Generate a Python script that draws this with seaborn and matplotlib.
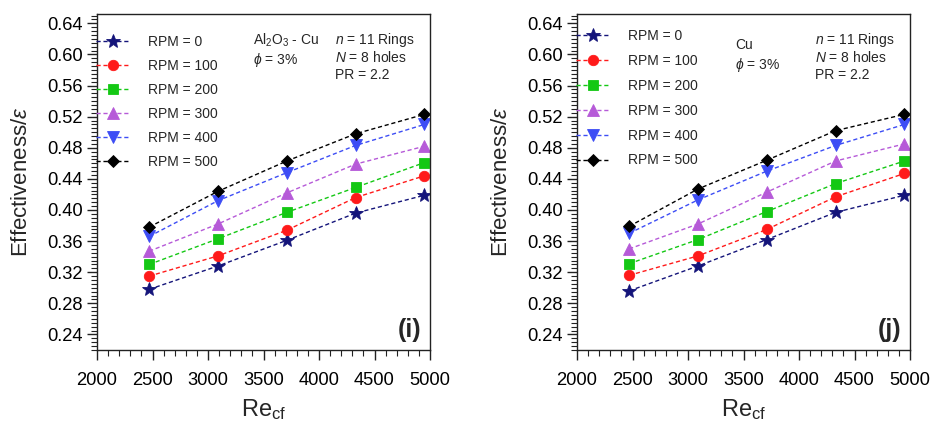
import numpy as np
import pandas as pd
import matplotlib
matplotlib.use("Agg")
import matplotlib.pyplot as plt
import seaborn as sns
from matplotlib.ticker import MultipleLocator, FormatStrFormatter

# ---------------- data ----------------
re_cf = [2470, 3090, 3710, 4330, 4950]
rpm_labels = ["RPM = 0", "RPM = 100", "RPM = 200", "RPM = 300", "RPM = 400", "RPM = 500"]

# panel (i): Al2O3 - Cu
eff_i_rpm0 = [0.298, 0.328, 0.361, 0.396, 0.419]
eff_i_rpm100 = [0.315, 0.341, 0.374, 0.416, 0.444]
eff_i_rpm200 = [0.330, 0.363, 0.397, 0.429, 0.461]
eff_i_rpm300 = [0.347, 0.382, 0.422, 0.459, 0.482]
eff_i_rpm400 = [0.366, 0.412, 0.448, 0.483, 0.510]
eff_i_rpm500 = [0.378, 0.424, 0.463, 0.498, 0.523]

# panel (j): Cu
eff_j_rpm0 = [0.296, 0.328, 0.362, 0.397, 0.419]
eff_j_rpm100 = [0.316, 0.341, 0.375, 0.417, 0.447]
eff_j_rpm200 = [0.331, 0.362, 0.398, 0.434, 0.463]
eff_j_rpm300 = [0.350, 0.382, 0.423, 0.463, 0.485]
eff_j_rpm400 = [0.370, 0.413, 0.450, 0.483, 0.510]
eff_j_rpm500 = [0.379, 0.427, 0.464, 0.502, 0.523]

y_ticks = [0.24, 0.28, 0.32, 0.36, 0.40, 0.44, 0.48, 0.52, 0.56, 0.60, 0.64]
x_ticks = [2000, 2500, 3000, 3500, 4000, 4500, 5000]

colors = ["#14147a", "#ff1a1a", "#14c814", "#b65ad8", "#3d4df5", "#000000"]
markers = ["*", "o", "s", "^", "v", "D"]
msizes = [10, 7.5, 7, 8, 8, 6.5]


def long_df(series):
    rows = []
    for lab, vals in zip(rpm_labels, series):
        for x, v in zip(re_cf, vals):
            rows.append({"Re": x, "eff": v, "RPM": lab})
    return pd.DataFrame(rows)


df_i = long_df([eff_i_rpm0, eff_i_rpm100, eff_i_rpm200, eff_i_rpm300, eff_i_rpm400, eff_i_rpm500])
df_j = long_df([eff_j_rpm0, eff_j_rpm100, eff_j_rpm200, eff_j_rpm300, eff_j_rpm400, eff_j_rpm500])

# ---------------- style ----------------
sns.set_style("ticks")
plt.rcParams["font.family"] = ["Liberation Sans", "DejaVu Sans"]
plt.rcParams["mathtext.fontset"] = "custom"
plt.rcParams["mathtext.rm"] = "Liberation Sans"
plt.rcParams["mathtext.it"] = "Liberation Sans:italic"
plt.rcParams["mathtext.bf"] = "Liberation Sans:bold"
plt.rcParams["axes.edgecolor"] = "#222222"
plt.rcParams["axes.linewidth"] = 1.0

fig = plt.figure(figsize=(9.31, 4.30), dpi=100)
ax_i = fig.add_axes([97 / 931, 1 - 350 / 430, 333 / 931, 336 / 430])
ax_j = fig.add_axes([577 / 931, 1 - 350 / 430, 333 / 931, 336 / 430])


def draw(ax, df, material_lines, mat_xy, tag, leg_y, leg_sp):
    sns.lineplot(data=df, x="Re", y="eff", hue="RPM", style="RPM",
                 palette=colors, markers=markers, dashes=[(3, 2)] * 6,
                 linewidth=1.0, markeredgewidth=0.6, ax=ax, legend=False)
    for ln, ms, c in zip(ax.lines, msizes, colors):
        ln.set_markersize(ms)
        ln.set_markeredgecolor(c)
    ax.set_xlim(2000, 5000)
    ax.set_ylim(0.22, 0.652)
    ax.set_xticks(x_ticks)
    ax.set_yticks(y_ticks)
    ax.yaxis.set_major_formatter(FormatStrFormatter("%.2f"))
    ax.xaxis.set_minor_locator(MultipleLocator(100))
    ax.yaxis.set_minor_locator(MultipleLocator(0.005))
    ax.tick_params(axis="both", which="major", direction="out", length=7, width=1,
                   labelsize=13.2, colors="#222222", labelcolor="black")
    ax.tick_params(axis="both", which="minor", direction="out", length=4, width=0.8,
                   colors="#222222")
    ax.tick_params(axis="x", pad=9)
    for s in ax.spines.values():
        s.set_visible(True)
    ax.set_xlabel(r"Re$_\mathrm{cf}$", fontsize=17, labelpad=6)
    ax.set_ylabel(r"Effectiveness/$\varepsilon$", fontsize=16)
    ax.yaxis.set_label_coords(-0.195, 0.5)

    handles = ax.lines[:6]
    ax.legend(handles, rpm_labels, loc="upper left", bbox_to_anchor=(-0.01, leg_y),
              frameon=False, fontsize=10, handlelength=2.4, handletextpad=1.3,
              labelspacing=leg_sp, borderaxespad=0, borderpad=0.2)

    mx, my = mat_xy
    ax.text(mx, my, material_lines[0], transform=ax.transAxes, fontsize=10,
            ha="left", va="center")
    ax.text(mx, my - 0.058, r"$\phi$ = 3%", transform=ax.transAxes, fontsize=10,
            ha="left", va="center")
    ax.text(0.715, 0.922, r"$n$ = 11 Rings", transform=ax.transAxes, fontsize=10,
            ha="left", va="center")
    ax.text(0.715, 0.870, r"$N$ = 8 holes", transform=ax.transAxes, fontsize=10,
            ha="left", va="center")
    ax.text(0.715, 0.818, "PR = 2.2", transform=ax.transAxes, fontsize=10,
            ha="left", va="center")
    ax.text(0.975, 0.06, tag, transform=ax.transAxes, fontsize=18,
            fontweight="bold", ha="right", va="center")


draw(ax_i, df_i, [r"Al$_2$O$_3$ - Cu"], (0.468, 0.922), "(i)", 0.947, 0.72)
draw(ax_j, df_j, ["Cu"], (0.475, 0.907), "(j)", 0.963, 0.78)

fig.savefig("out.png", dpi=100)
